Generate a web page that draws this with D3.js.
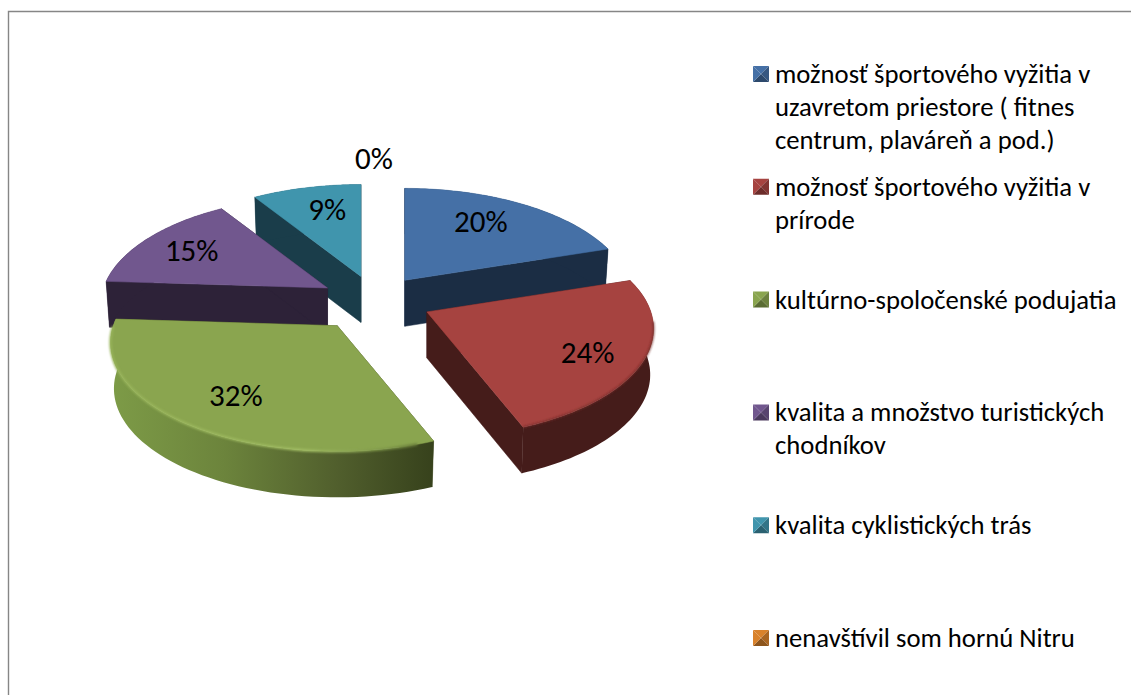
<!DOCTYPE html>
<html><head><meta charset="utf-8">
<script src="https://cdn.jsdelivr.net/npm/d3@7"></script>
<style>html,body{margin:0;background:#fff}svg{display:block}text{font-family:Carlito,Lato,sans-serif;fill:#000}</style>
</head><body><svg width="1131" height="695"></svg>
<script>
const categories = [
  ["možnosť športového vyžitia v","uzavretom priestore ( fitnes","centrum, plaváreň a pod.)"],
  ["možnosť športového vyžitia v","prírode"],
  ["kultúrno-spoločenské podujatia"],
  ["kvalita a množstvo turistických","chodníkov"],
  ["kvalita cyklistických trás"],
  ["nenavštívil som hornú Nitru"]
];
const values = [20,24,32,15,9,0];
const topColors  = ["#4570a6","#a64340","#8aa54f","#71578e","#4095ad","#d9822b"];
const wallColors = ["#1b2d44","#451c1a","#3c4720","#2d2238","#1a3d4a","#5a3410"];
const drawOrder = [5,4,0,3,1,2];
const labelNudge = [[-13,-1],[3,5],[6,-1],[-1,0],[8,1],[1,-47]];
const sliceNudge = [[0,0],[5,0],[-4,4],[1,0],[3,0],[0,0]];

const W=1131,H=695, cx=373, cy=301, R=224, tilt=.474, persp=.155, explode=54, depth=46, bottomScale=.985;
const svg=d3.select("svg");
const defs=svg.append("defs");
const gr=defs.append("linearGradient").attr("id","greenRim").attr("gradientUnits","userSpaceOnUse")
  .attr("x1",112).attr("x2",432).attr("y1",0).attr("y2",0);
[[0,"#7d9b47"],[.35,"#6c843c"],[.7,"#515f2d"],[1,"#37421c"]].forEach(d=>gr.append("stop").attr("offset",d[0]).attr("stop-color",d[1]));
const hl=defs.append("linearGradient").attr("id","greenHi").attr("gradientUnits","userSpaceOnUse")
  .attr("x1",112).attr("x2",432).attr("y1",0).attr("y2",0);
[[0,"#98b45a"],[.6,"#a1bd63"],[.85,"#7d9648"],[1,"#5d6e33"]].forEach(d=>hl.append("stop").attr("offset",d[0]).attr("stop-color",d[1]));
defs.append("filter").attr("id","soft").append("feGaussianBlur").attr("stdDeviation",.8);

// frame
svg.append("path").attr("d",`M8.5,${H}V11.5H${W}`).attr("fill","none").attr("stroke","#868686").attr("stroke-width",1.4);

const pie=d3.pie().sort(null).value(d=>d)(values);
const lineGen=d3.line();

function pt(o,a,r,z){
  const X=Math.sin(a)*r, Y=-Math.cos(a)*r, f=1/(1-persp*Y), s=z?bottomScale:1;
  return [o[0]+X*R*f*s, o[1]+Y*tilt*R*f+(z?depth:0)];
}
const arcPts=(o,a0,a1,z)=>d3.range(0,61).map(i=>pt(o,a0+(a1-a0)*i/60,1,z));

const slices=pie.map((p,i)=>{
  const mid=(p.startAngle+p.endAngle)/2, n=sliceNudge[i];
  const o=[cx+Math.sin(mid)*explode+n[0], cy-Math.cos(mid)*explode*tilt+n[1]];
  return {p,i,mid,o};
});

const g=svg.append("g");
drawOrder.forEach(i=>{
  const s=slices[i], a0=s.p.startAngle, a1=s.p.endAngle;
  if(a1-a0<1e-6) return;
  const top=arcPts(s.o,a0,a1,false), bot=arcPts(s.o,a0,a1,true);
  const base=[s.o[0],s.o[1]+depth];
  const wall=wallColors[i];
  [a0,a1].forEach(a=>{
    g.append("path").attr("d",lineGen([s.o,pt(s.o,a,1,false),pt(s.o,a,1,true),base])+"Z").attr("fill",wall).attr("stroke",wall).attr("stroke-width",.5);
  });
  const rimFill=i===2?"url(#greenRim)":wall;
  g.append("path").attr("d",lineGen(top.concat(bot.slice().reverse()))+"Z").attr("fill",rimFill);
  g.append("path").attr("d",lineGen([s.o,...top])+"Z").attr("fill",topColors[i]).attr("stroke",topColors[i]).attr("stroke-width",.5).attr("stroke-linejoin","round");
  if(i===2) g.append("path").attr("d",lineGen(top.slice(2,59))).attr("fill","none").attr("stroke","url(#greenHi)").attr("stroke-width",2.4).attr("filter","url(#soft)");
  if(i===1) g.append("path").attr("d",lineGen(top.slice(16))).attr("fill","none").attr("stroke","#6e2a28").attr("stroke-width",1.5).attr("filter","url(#soft)");
});

// data labels
slices.forEach(s=>{
  const a=s.mid, r=.74, q=pt(s.o,a,r,false), n=labelNudge[s.i];
  svg.append("text").attr("x",q[0]+n[0]).attr("y",q[1]+n[1]).attr("text-anchor","middle").attr("dominant-baseline","central")
    .style("font-size","31px").text(d3.format(".0f")(values[s.i])+"%");
});

// legend
const legendY=d3.scaleLinear().domain([0,5]).range([74,638]);
categories.forEach((lines,i)=>{
  const y=legendY(i), c=topColors[i], x0=753, sz=16, yy=y-8;
  const leg=svg.append("g");
  const col=d3.color(c), mx=x0+sz/2, my=yy+sz/2;
  [[[x0,yy],[x0+sz,yy],col],[[x0+sz,yy],[x0+sz,yy+sz],col.darker(.7)],[[x0+sz,yy+sz],[x0,yy+sz],col.darker(1.2)],[[x0,yy+sz],[x0,yy],col]]
  .forEach(t=>leg.append("path").attr("d",lineGen([t[0],t[1],[mx,my]])+"Z").attr("fill",t[2]));
  lines.forEach((l,j)=>leg.append("text").attr("x",775).attr("y",y+j*33).attr("dominant-baseline","central").style("font-size","26.7px").text(l));
});
</script></body></html>
